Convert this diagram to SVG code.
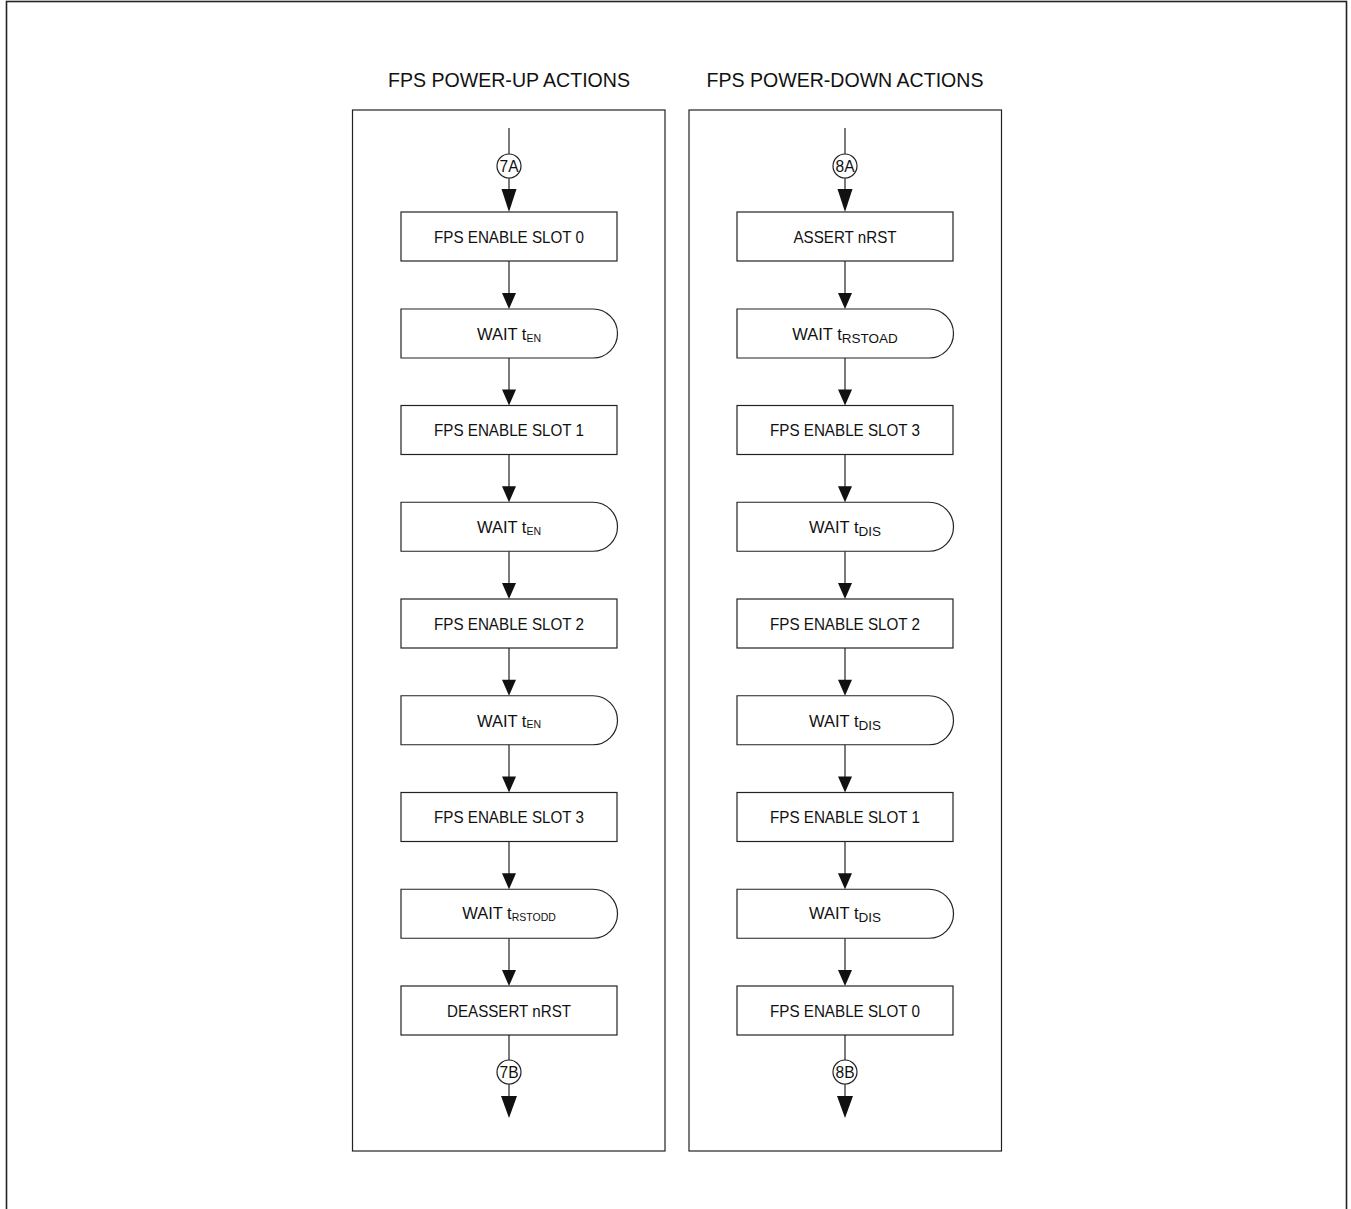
<svg xmlns="http://www.w3.org/2000/svg" width="1351" height="1209" viewBox="0 0 1351 1209">
<defs>
<style>
.frame{fill:none;stroke:#222;stroke-width:1.6}
.panel{fill:#fff;stroke:#222;stroke-width:1.2}
.box{fill:#fff;stroke:#222;stroke-width:1.2}
.ln{fill:none;stroke:#222;stroke-width:1.2}
.ah{fill:#111;stroke:none}
.t{font-family:"Liberation Sans",Arial,sans-serif;fill:#111;text-anchor:middle}
.title{font-size:20.5px}
.lbl{font-size:16.5px}
.cl{font-size:16px}
.sub{font-size:10.5px}
.subL{font-size:13.5px}
.cc{fill:#fff;stroke:#222;stroke-width:1.2}
</style>
</defs>
<rect x="0" y="0" width="1351" height="1209" fill="#fff"/>
<rect class="frame" x="6.5" y="1.5" width="1340" height="1220"/>

<text class="t title" x="509" y="87" textLength="242" lengthAdjust="spacingAndGlyphs">FPS POWER-UP ACTIONS</text>
<text class="t title" x="845" y="87" textLength="277" lengthAdjust="spacingAndGlyphs">FPS POWER-DOWN ACTIONS</text>

<rect class="panel" x="352.5" y="110" width="312.5" height="1041"/>
<rect class="panel" x="689" y="110" width="312.5" height="1041"/>

<g id="connectors">
<path class="ln" d="M509 128V154M509 178V190"/>
<polygon class="ah" points="501.5,189 516.5,189 509,212"/>
<path class="ln" d="M509 261V294"/><polygon class="ah" points="502,293 516,293 509,309"/>
<path class="ln" d="M509 358V390"/><polygon class="ah" points="502,389.5 516,389.5 509,405.5"/>
<path class="ln" d="M509 454.5V487"/><polygon class="ah" points="502,486.25 516,486.25 509,502.25"/>
<path class="ln" d="M509 551.25V584"/><polygon class="ah" points="502,583 516,583 509,599"/>
<path class="ln" d="M509 648V681"/><polygon class="ah" points="502,679.75 516,679.75 509,695.75"/>
<path class="ln" d="M509 744.75V777"/><polygon class="ah" points="502,776.5 516,776.5 509,792.5"/>
<path class="ln" d="M509 841.5V874"/><polygon class="ah" points="502,873.25 516,873.25 509,889.25"/>
<path class="ln" d="M509 938.25V971"/><polygon class="ah" points="502,970 516,970 509,986"/>
<path class="ln" d="M509 1035V1060M509 1084V1097"/>
<polygon class="ah" points="501,1096 517,1096 509,1118"/>
<path class="ln" d="M845 128V154M845 178V190"/>
<polygon class="ah" points="837.5,189 852.5,189 845,212"/>
<path class="ln" d="M845 261V294"/><polygon class="ah" points="838,293 852,293 845,309"/>
<path class="ln" d="M845 358V390"/><polygon class="ah" points="838,389.5 852,389.5 845,405.5"/>
<path class="ln" d="M845 454.5V487"/><polygon class="ah" points="838,486.25 852,486.25 845,502.25"/>
<path class="ln" d="M845 551.25V584"/><polygon class="ah" points="838,583 852,583 845,599"/>
<path class="ln" d="M845 648V681"/><polygon class="ah" points="838,679.75 852,679.75 845,695.75"/>
<path class="ln" d="M845 744.75V777"/><polygon class="ah" points="838,776.5 852,776.5 845,792.5"/>
<path class="ln" d="M845 841.5V874"/><polygon class="ah" points="838,873.25 852,873.25 845,889.25"/>
<path class="ln" d="M845 938.25V971"/><polygon class="ah" points="838,970 852,970 845,986"/>
<path class="ln" d="M845 1035V1060M845 1084V1097"/>
<polygon class="ah" points="837,1096 853,1096 845,1118"/>
</g>

<g id="c7A"><circle class="cc" cx="509" cy="166" r="12"/><text class="t cl" x="509" y="171.5" textLength="19" lengthAdjust="spacingAndGlyphs">7A</text></g>
<g id="c7B"><circle class="cc" cx="509" cy="1072" r="12"/><text class="t cl" x="509" y="1077.5" textLength="19" lengthAdjust="spacingAndGlyphs">7B</text></g>
<g id="c8A"><circle class="cc" cx="845" cy="166" r="12"/><text class="t cl" x="845" y="171.5" textLength="19" lengthAdjust="spacingAndGlyphs">8A</text></g>
<g id="c8B"><circle class="cc" cx="845" cy="1072" r="12"/><text class="t cl" x="845" y="1077.5" textLength="19" lengthAdjust="spacingAndGlyphs">8B</text></g>

<g id="u1"><rect class="box" x="401" y="212" width="216" height="49"/><text class="t lbl" x="509" y="242.5" textLength="150" lengthAdjust="spacingAndGlyphs">FPS ENABLE SLOT 0</text></g>
<g id="u2"><path class="box" d="M401 309H593A24.5 24.5 0 0 1 593 358H401Z"/><text class="t lbl" x="509" y="340">WAIT t<tspan class="sub" dy="1.5">EN</tspan></text></g>
<g id="u3"><rect class="box" x="401" y="405.5" width="216" height="49"/><text class="t lbl" x="509" y="436" textLength="150" lengthAdjust="spacingAndGlyphs">FPS ENABLE SLOT 1</text></g>
<g id="u4"><path class="box" d="M401 502.25H593A24.5 24.5 0 0 1 593 551.25H401Z"/><text class="t lbl" x="509" y="533">WAIT t<tspan class="sub" dy="1.5">EN</tspan></text></g>
<g id="u5"><rect class="box" x="401" y="599" width="216" height="49"/><text class="t lbl" x="509" y="629.5" textLength="150" lengthAdjust="spacingAndGlyphs">FPS ENABLE SLOT 2</text></g>
<g id="u6"><path class="box" d="M401 695.75H593A24.5 24.5 0 0 1 593 744.75H401Z"/><text class="t lbl" x="509" y="726.5">WAIT t<tspan class="sub" dy="1.5">EN</tspan></text></g>
<g id="u7"><rect class="box" x="401" y="792.5" width="216" height="49"/><text class="t lbl" x="509" y="823" textLength="150" lengthAdjust="spacingAndGlyphs">FPS ENABLE SLOT 3</text></g>
<g id="u8"><path class="box" d="M401 889.25H593A24.5 24.5 0 0 1 593 938.25H401Z"/><text class="t lbl" x="509" y="919">WAIT t<tspan class="sub" dy="1.5">RSTODD</tspan></text></g>
<g id="u9"><rect class="box" x="401" y="986" width="216" height="49"/><text class="t lbl" x="509" y="1016.5" textLength="124" lengthAdjust="spacingAndGlyphs">DEASSERT nRST</text></g>

<g id="d1"><rect class="box" x="737" y="212" width="216" height="49"/><text class="t lbl" x="845" y="242.5" textLength="103" lengthAdjust="spacingAndGlyphs">ASSERT nRST</text></g>
<g id="d2"><path class="box" d="M737 309H929A24.5 24.5 0 0 1 929 358H737Z"/><text class="t lbl" x="845" y="340">WAIT t<tspan class="subL" dy="3">RSTOAD</tspan></text></g>
<g id="d3"><rect class="box" x="737" y="405.5" width="216" height="49"/><text class="t lbl" x="845" y="436" textLength="150" lengthAdjust="spacingAndGlyphs">FPS ENABLE SLOT 3</text></g>
<g id="d4"><path class="box" d="M737 502.25H929A24.5 24.5 0 0 1 929 551.25H737Z"/><text class="t lbl" x="845" y="533">WAIT t<tspan class="subL" dy="3">DIS</tspan></text></g>
<g id="d5"><rect class="box" x="737" y="599" width="216" height="49"/><text class="t lbl" x="845" y="629.5" textLength="150" lengthAdjust="spacingAndGlyphs">FPS ENABLE SLOT 2</text></g>
<g id="d6"><path class="box" d="M737 695.75H929A24.5 24.5 0 0 1 929 744.75H737Z"/><text class="t lbl" x="845" y="726.5">WAIT t<tspan class="subL" dy="3">DIS</tspan></text></g>
<g id="d7"><rect class="box" x="737" y="792.5" width="216" height="49"/><text class="t lbl" x="845" y="823" textLength="150" lengthAdjust="spacingAndGlyphs">FPS ENABLE SLOT 1</text></g>
<g id="d8"><path class="box" d="M737 889.25H929A24.5 24.5 0 0 1 929 938.25H737Z"/><text class="t lbl" x="845" y="919">WAIT t<tspan class="subL" dy="3">DIS</tspan></text></g>
<g id="d9"><rect class="box" x="737" y="986" width="216" height="49"/><text class="t lbl" x="845" y="1016.5" textLength="150" lengthAdjust="spacingAndGlyphs">FPS ENABLE SLOT 0</text></g>
</svg>
